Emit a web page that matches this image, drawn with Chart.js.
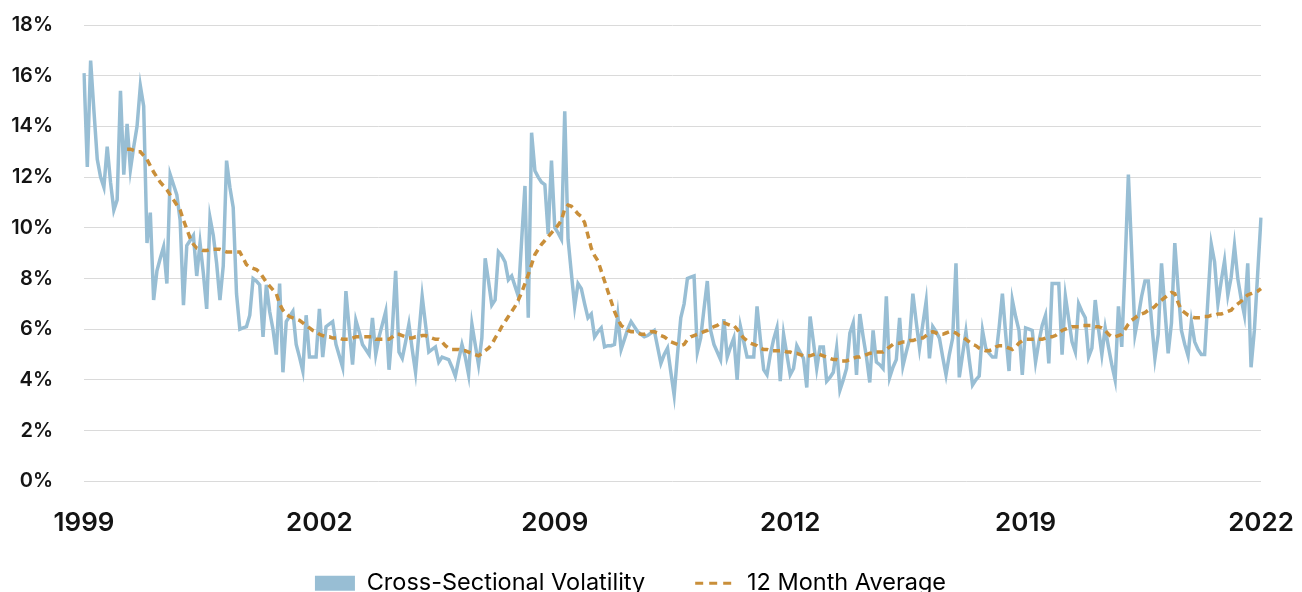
<!DOCTYPE html>
<html>
<head>
<meta charset="utf-8">
<script src="https://cdn.jsdelivr.net/npm/chart.js@4.4.1/dist/chart.umd.min.js"></script>
<style>
    html, body { margin: 0; padding: 0; background: #fff; }
</style>
</head>
<body>
<canvas id="chart" width="1302" height="592"></canvas>
<script>
const xTickLabels = ['1999', '2002', '2009', '2012', '2019', '2022'];
const tickEvery = 71;
const yTickValues = [0, 2, 4, 6, 8, 10, 12, 14, 16, 18];

// monthly cross-sectional volatility (%)
const volatility = [
    16.1, 12.4, 16.6, 14.6, 12.7, 12.0, 11.6, 13.2, 11.8, 10.7, 11.1, 15.4,
    12.1, 14.1, 12.3, 13.2, 14.0, 15.6, 14.8, 9.4, 10.6, 7.15, 8.3, 8.8,
    9.25, 7.8, 12.1, 11.7, 11.3, 10.3, 6.95, 9.3, 9.5, 9.7, 8.1, 9.4,
    8.2, 6.8, 10.4, 9.7, 8.6, 7.15, 8.5, 12.65, 11.6, 10.8, 7.4, 6.0,
    6.05, 6.1, 6.55, 8.0, 7.9, 7.75, 5.7, 7.75, 6.7, 6.0, 5.0, 7.8,
    4.3, 6.3, 6.5, 6.7, 5.4, 4.9, 4.35, 6.55, 4.9, 4.9, 4.9, 6.8,
    4.9, 6.1, 6.2, 6.3, 5.4, 4.95, 4.5, 7.5, 6.0, 4.6, 6.35, 5.9,
    5.4, 5.2, 5.0, 6.45, 5.0, 5.7, 6.2, 6.7, 4.4, 6.0, 8.3, 5.1,
    4.85, 5.5, 6.2, 5.2, 4.3, 5.8, 7.3, 6.2, 5.1, 5.2, 5.3, 4.7,
    4.9, 4.85, 4.8, 4.5, 4.15, 4.8, 5.4, 4.9, 4.2, 6.2, 5.4, 4.6,
    5.65, 8.8, 7.9, 6.95, 7.15, 9.05, 8.9, 8.65, 7.95, 8.1, 7.7, 7.3,
    9.5, 11.65, 6.45, 13.75, 12.25, 12.0, 11.8, 11.7, 9.75, 12.65, 10.0, 9.8,
    9.55, 14.6, 9.55, 8.2, 6.9, 7.8, 7.6, 7.0, 6.45, 6.6, 5.7, 5.9,
    6.05, 5.3, 5.35, 5.35, 5.4, 6.55, 5.2, 5.6, 6.0, 6.3, 6.1, 5.9,
    5.8, 5.7, 5.75, 5.85, 5.95, 5.3, 4.65, 5.0, 5.25, 4.3, 3.4, 5.0,
    6.45, 7.0, 8.0, 8.05, 8.1, 5.1, 5.65, 6.8, 7.9, 5.95, 5.4, 5.1,
    4.8, 6.4, 4.9, 5.3, 5.65, 4.0, 6.1, 5.5, 4.9, 4.9, 4.9, 6.9,
    5.6, 4.4, 4.2, 5.0, 5.6, 6.05, 3.95, 5.8, 5.0, 4.2, 4.45, 5.35,
    5.1, 4.85, 3.7, 6.5, 5.5, 4.45, 5.3, 5.3, 3.95, 4.1, 4.3, 5.25,
    3.6, 4.0, 4.45, 5.85, 6.25, 4.2, 6.6, 5.7, 4.9, 3.9, 5.95, 4.7,
    4.6, 4.45, 7.3, 4.1, 4.5, 4.8, 6.45, 4.55, 5.1, 5.6, 7.4, 6.3,
    5.25, 6.2, 7.1, 4.85, 6.1, 5.9, 5.65, 4.9, 4.2, 5.0, 5.65, 8.6,
    4.1, 5.0, 5.9, 4.8, 3.8, 4.0, 4.15, 5.95, 5.25, 5.05, 4.9, 4.9,
    6.05, 7.4, 5.8, 4.35, 7.15, 6.5, 5.95, 4.2, 6.05, 6.0, 5.95, 4.7,
    5.5, 6.15, 6.55, 4.65, 7.8, 7.8, 7.8, 5.0, 7.3, 6.4, 5.5, 5.1,
    7.0, 6.7, 6.45, 4.9, 5.25, 7.15, 6.0, 5.0, 6.05, 5.3, 4.6, 4.0,
    6.9, 5.3, 8.5, 12.1, 9.0, 5.8, 6.5, 7.3, 7.9, 7.9, 6.3, 4.85,
    5.8, 8.6, 6.8, 5.05, 6.25, 9.4, 7.6, 5.95, 5.4, 4.95, 6.3, 5.5,
    5.2, 5.0, 5.0, 7.2, 9.35, 8.65, 7.0, 7.9, 8.7, 7.35, 8.05, 9.3,
    8.0, 7.2, 6.55, 8.6, 4.5, 5.95, 8.2, 10.4
];

// 12 month average (%), starts at month 13 of the series
const avgStart = 13;
const monthAverage = [
    13.1, 13.1, 13.05, 13.0, 13.0, 12.85, 12.7, 12.45, 12.2, 12.0, 11.8,
    11.65, 11.5, 11.3, 11.1, 10.9, 10.7, 10.3, 9.95, 9.6, 9.35, 9.2, 9.15,
    9.1, 9.1, 9.15, 9.15, 9.15, 9.15, 9.1, 9.05, 9.05, 9.05, 9.05, 9.05,
    8.8, 8.55, 8.45, 8.4, 8.35, 8.25, 8.05, 7.85, 7.7, 7.55, 7.4, 7.0,
    6.75, 6.6, 6.5, 6.45, 6.4, 6.35, 6.25, 6.15, 6.05, 5.95, 5.9, 5.8,
    5.75, 5.7, 5.7, 5.65, 5.65, 5.65, 5.6, 5.6, 5.6, 5.65, 5.7, 5.7,
    5.7, 5.7, 5.7, 5.7, 5.6, 5.6, 5.6, 5.6, 5.6, 5.7, 5.8, 5.8,
    5.75, 5.7, 5.65, 5.65, 5.7, 5.7, 5.75, 5.75, 5.7, 5.65, 5.6, 5.6,
    5.5, 5.35, 5.25, 5.2, 5.2, 5.2, 5.15, 5.15, 5.1, 5.05, 5.0, 4.95,
    5.05, 5.15, 5.25, 5.4, 5.65, 5.85, 6.1, 6.3, 6.5, 6.7, 6.9, 7.15,
    7.45, 7.8, 8.15, 8.55, 8.95, 9.15, 9.35, 9.5, 9.65, 9.8, 9.95, 10.1,
    10.3, 10.75, 10.9, 10.85, 10.7, 10.55, 10.45, 10.2, 9.7, 9.2, 8.9, 8.7,
    8.3, 7.9, 7.5, 7.1, 6.7, 6.4, 6.15, 6.05, 5.95, 5.9, 5.9, 5.85,
    5.8, 5.8, 5.85, 5.9, 5.9, 5.85, 5.75, 5.7, 5.6, 5.5, 5.45, 5.4,
    5.35, 5.4, 5.6, 5.7, 5.75, 5.8, 5.85, 5.9, 5.95, 6.05, 6.1, 6.15,
    6.25, 6.25, 6.2, 6.15, 6.15, 6.0, 5.8, 5.65, 5.55, 5.45, 5.4, 5.35,
    5.25, 5.2, 5.2, 5.15, 5.15, 5.15, 5.15, 5.15, 5.1, 5.1, 5.05, 5.05,
    5.0, 4.95, 4.95, 4.95, 5.0, 5.05, 5.0, 4.95, 4.9, 4.85, 4.8, 4.8,
    4.75, 4.75, 4.75, 4.8, 4.85, 4.9, 4.9, 4.95, 5.0, 5.05, 5.05, 5.1,
    5.1, 5.1, 5.2, 5.3, 5.4, 5.45, 5.45, 5.5, 5.5, 5.55, 5.55, 5.6,
    5.65, 5.65, 5.75, 5.85, 5.9, 5.85, 5.8, 5.8, 5.85, 5.9, 5.9, 5.85,
    5.75, 5.7, 5.6, 5.5, 5.4, 5.35, 5.25, 5.2, 5.15, 5.15, 5.2, 5.3,
    5.35, 5.35, 5.3, 5.25, 5.2, 5.3, 5.45, 5.55, 5.6, 5.6, 5.6, 5.6,
    5.6, 5.6, 5.65, 5.7, 5.7, 5.75, 5.85, 5.95, 6.0, 6.05, 6.1, 6.1,
    6.1, 6.15, 6.15, 6.15, 6.15, 6.1, 6.1, 6.05, 5.95, 5.8, 5.7, 5.7,
    5.75, 5.8, 6.0, 6.2, 6.35, 6.45, 6.55, 6.6, 6.65, 6.75, 6.8, 6.9,
    7.05, 7.15, 7.25, 7.35, 7.45, 7.4, 7.05, 6.75, 6.65, 6.55, 6.5, 6.45,
    6.45, 6.45, 6.5, 6.5, 6.55, 6.55, 6.6, 6.6, 6.65, 6.7, 6.75, 6.9,
    7.0, 7.1, 7.25, 7.35, 7.4, 7.45, 7.5, 7.6
];

const blue = '#98bed4';
const orange = '#c98f3a';
const textColor = '#141414';
const fontFamily = 'Inter, "Noto Sans", sans-serif';

const labels = volatility.map((v, i) => i);
const avgData = labels.map(i => (i < avgStart ? null : monthAverage[i - avgStart]));

// the legend label padding also sets the gap between items, so pull the row up afterwards
const legendNudge = {
    id: 'legendNudge',
    afterLayout(chart) {
        chart.legend.top -= 20;
        chart.legend.bottom -= 20;
    }
};

const ctx = document.getElementById('chart').getContext('2d');

new Chart(ctx, {
    type: 'line',
    data: {
        labels: labels,
        datasets: [{
            label: 'Cross-Sectional Volatility',
            data: volatility,
            borderColor: blue,
            backgroundColor: blue,
            borderWidth: 3.5,
            pointRadius: 0,
            order: 1
        }, {
            label: '12 Month Average',
            data: avgData,
            borderColor: orange,
            backgroundColor: orange,
            borderWidth: 3.5,
            borderDash: [7, 5],
            pointRadius: 0,
            order: 0
        }]
    },
    plugins: [legendNudge],
    options: {
        responsive: false,
        animation: false,
        devicePixelRatio: 1,
        layout: {
            padding: { top: 25, right: 41, left: 0, bottom: -33 }
        },
        plugins: {
            tooltip: { enabled: false },
            legend: {
                position: 'bottom',
                labels: {
                    usePointStyle: true,
                    pointStyleWidth: 40,
                    boxHeight: 15,
                    padding: 50,
                    color: '#222',
                    font: { family: fontFamily, size: 23.5 },
                    generateLabels: () => [{
                        text: 'Cross-Sectional Volatility',
                        fillStyle: blue,
                        strokeStyle: blue,
                        lineWidth: 0,
                        pointStyle: 'rect',
                        datasetIndex: 0
                    }, {
                        text: '12 Month Average',
                        fillStyle: orange,
                        strokeStyle: orange,
                        lineWidth: 3,
                        lineDash: [8, 6],
                        pointStyle: 'line',
                        datasetIndex: 1
                    }]
                }
            }
        },
        scales: {
            x: {
                grid: { display: false, drawTicks: true, tickLength: 23 },
                border: { display: false },
                ticks: {
                    autoSkip: false,
                    maxRotation: 0,
                    padding: 3,
                    color: textColor,
                    font: { family: fontFamily, size: 26, weight: 600 },
                    callback: (val, idx) => (idx % tickEvery === 0 ? xTickLabels[idx / tickEvery] : null)
                }
            },
            y: {
                min: yTickValues[0],
                max: yTickValues[yTickValues.length - 1],
                afterFit: (scale) => { scale.width = 84; },
                grid: { color: '#dadada', lineWidth: 1, drawTicks: true, tickLength: 28, tickColor: 'rgba(0,0,0,0)' },
                border: { display: false },
                ticks: {
                    stepSize: 2,
                    padding: 3,
                    color: textColor,
                    font: { family: fontFamily, size: 20, weight: 600 },
                    callback: (v) => v + '%'
                }
            }
        }
    }
});
</script>
</body>
</html>
